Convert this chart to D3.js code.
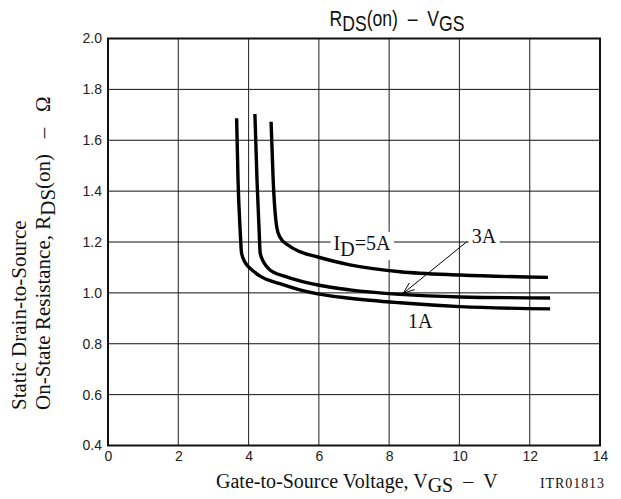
<!DOCTYPE html>
<html>
<head>
<meta charset="utf-8">
<script src="https://cdn.jsdelivr.net/npm/d3@7"></script>
<style>
  html, body { margin: 0; padding: 0; background: #fff; }
  svg { display: block; }
  .tick-lbl { font-family: "Liberation Sans", Arial, sans-serif; font-size: 14px; fill: #222; }
  .serif { font-family: "Liberation Serif", "Times New Roman", serif; fill: #111; }
</style>
</head>
<body>
<svg id="chart" width="621" height="499"></svg>
<script>
'use strict';

// ── Data ────────────────────────────────────────────────────────────────────
const xTicks = [0, 2, 4, 6, 8, 10, 12, 14];
const yTicks = [0.4, 0.6, 0.8, 1.0, 1.2, 1.4, 1.6, 1.8, 2.0];

const vgs1A = [3.66, 3.70, 3.76, 3.80, 3.90, 4.04, 4.33, 4.89, 5.46, 5.97, 6.88, 8.31, 10.02, 12.58];
const rds1A = [1.686, 1.444, 1.247, 1.157, 1.120, 1.097, 1.066, 1.036, 1.012, 0.996, 0.979, 0.961, 0.946, 0.937];

const vgs3A = [4.18, 4.24, 4.30, 4.33, 4.44, 4.61, 5.04, 5.46, 5.97, 6.88, 8.31, 10.02, 12.58];
const rds3A = [1.703, 1.444, 1.247, 1.157, 1.118, 1.090, 1.065, 1.047, 1.031, 1.012, 0.994, 0.984, 0.980];

const vgs5A = [4.64, 4.70, 4.80, 4.89, 5.12, 5.46, 5.97, 6.88, 8.31, 10.02, 12.52];
const rds5A = [1.673, 1.444, 1.260, 1.220, 1.188, 1.162, 1.141, 1.110, 1.083, 1.070, 1.061];

// ── Layout ──────────────────────────────────────────────────────────────────
const X0 = 108, X1 = 600;
const Y0 = 38.5, Y1 = 445.5;
const NB = '\u00a0';

const svg = d3.select('#chart');

const x = d3.scaleLinear().domain([0, 14]).range([X0, X1]);
const y = d3.scaleLinear().domain([0.4, 2.0]).range([Y1, Y0]);

const gGrid   = svg.append('g');
const gBg     = svg.append('g');   // white patches behind the curve labels
const gCurves = svg.append('g');
const gText   = svg.append('g');

// Grid
gGrid.selectAll('line.v')
  .data(xTicks.slice(1, -1))
  .join('line')
  .attr('x1', d => x(d)).attr('x2', d => x(d))
  .attr('y1', Y0).attr('y2', Y1)
  .attr('stroke', '#333').attr('stroke-width', 1.1);
gGrid.selectAll('line.h')
  .data(yTicks.slice(1, -1))
  .join('line')
  .attr('x1', X0).attr('x2', X1)
  .attr('y1', d => y(d)).attr('y2', d => y(d))
  .attr('stroke', '#111').attr('stroke-width', 1);

// Frame
svg.append('rect')
  .attr('x', X0).attr('y', Y0)
  .attr('width', X1 - X0).attr('height', Y1 - Y0)
  .attr('fill', 'none').attr('stroke', '#111').attr('stroke-width', 2);

// Axes (labels only)
const xAxis = d3.axisBottom(x).tickValues(xTicks).tickSize(0).tickPadding(6).tickFormat(d3.format('d'));
svg.append('g')
  .attr('transform', `translate(0,${Y1})`)
  .call(xAxis)
  .call(ax => ax.select('.domain').remove())
  .call(ax => ax.selectAll('text').attr('class', 'tick-lbl').attr('font-family', null).attr('font-size', null));

const yAxis = d3.axisLeft(y).tickValues(yTicks).tickSize(0).tickPadding(6).tickFormat(d3.format('.1f'));
svg.append('g')
  .attr('transform', `translate(${X0},0)`)
  .call(yAxis)
  .call(ax => ax.select('.domain').remove())
  .call(ax => ax.selectAll('text').attr('class', 'tick-lbl').attr('font-family', null).attr('font-size', null));

// ── Curves ──────────────────────────────────────────────────────────────────
const line = d3.line()
  .x(d => x(d[0])).y(d => y(d[1]))
  .curve(d3.curveMonotoneX);

[[vgs1A, rds1A], [vgs3A, rds3A], [vgs5A, rds5A]].forEach(([vs, rs]) => {
  gCurves.append('path')
    .datum(d3.zip(vs, rs))
    .attr('d', line)
    .attr('fill', 'none')
    .attr('stroke', '#000')
    .attr('stroke-width', 3.4);
});

// ── Curve labels ────────────────────────────────────────────────────────────
function label(vx, ry, parts, bg) {
  const t = gText.append('text')
    .attr('class', 'serif')
    .attr('x', x(vx)).attr('y', y(ry))
    .attr('font-size', 20);
  parts.forEach(p => t.append('tspan').attr('dy', p.dy || 0).text(p.t));
  if (bg) {
    const bb = t.node().getBBox();
    gBg.append('rect')
      .attr('x', bb.x - 3).attr('y', bb.y)
      .attr('width', bb.width + 6).attr('height', bb.height)
      .attr('fill', '#fff');
  }
}
label(6.42, 1.169, [{ t: 'I' }, { t: 'D', dy: 6 }, { t: '=5A', dy: -6 }], true);
label(10.35, 1.195, [{ t: '3A' }], true);
label(8.54, 0.862, [{ t: '1A' }], false);

// Arrow to the 3A curve
const ax0 = x(10.21), ay0 = y(1.201), ax1 = x(8.40), ay1 = y(0.998);
gText.append('line')
  .attr('x1', ax0).attr('y1', ay0).attr('x2', ax1).attr('y2', ay1)
  .attr('stroke', '#000').attr('stroke-width', 1);
const ang = Math.atan2(ay0 - ay1, ax0 - ax1);
const hl = 12, spread = 0.36;
gText.append('path')
  .attr('d', `M${ax1 + hl * Math.cos(ang - spread)},${ay1 + hl * Math.sin(ang - spread)}L${ax1},${ay1}L${ax1 + hl * Math.cos(ang + spread)},${ay1 + hl * Math.sin(ang + spread)}`)
  .attr('fill', 'none').attr('stroke', '#000').attr('stroke-width', 1);

// ── Title and axis titles ───────────────────────────────────────────────────
const title = svg.append('text')
  .attr('transform', 'translate(397,26) scale(0.8,1)')
  .attr('text-anchor', 'middle')
  .attr('font-family', '"Liberation Sans", Arial, sans-serif')
  .attr('font-size', 22).attr('fill', '#111');
title.append('tspan').text('R');
title.append('tspan').attr('dy', 5).text('DS');
title.append('tspan').attr('dy', -5).text(`(on)${NB}${NB}–${NB}${NB}V`);
title.append('tspan').attr('dy', 5).text('GS');

const xt = svg.append('text')
  .attr('class', 'serif')
  .attr('x', 216).attr('y', 488)
  .attr('font-size', 20);
xt.append('tspan').text('Gate-to-Source Voltage, V');
xt.append('tspan').attr('dy', 4).text('GS');
xt.append('tspan').attr('dy', -4).text(`${NB}${NB}–${NB}${NB}V`);

svg.append('text')
  .attr('class', 'serif')
  .attr('x', 604).attr('y', 488)
  .attr('text-anchor', 'end')
  .attr('font-size', 14)
  .attr('textLength', 64)
  .text('ITR01813');

svg.append('text')
  .attr('class', 'serif')
  .attr('transform', 'translate(26,410) rotate(-90)')
  .attr('font-size', 21)
  .text('Static Drain-to-Source');

const yt = svg.append('text')
  .attr('class', 'serif')
  .attr('transform', 'translate(50,410) rotate(-90)')
  .attr('font-size', 21);
yt.append('tspan').text('On-State Resistance, R');
yt.append('tspan').attr('dy', 5).text('DS');
yt.append('tspan').attr('dy', -5).text(`(on)${NB}${NB}${NB}–${NB}${NB}${NB}Ω`);
</script>
</body>
</html>
